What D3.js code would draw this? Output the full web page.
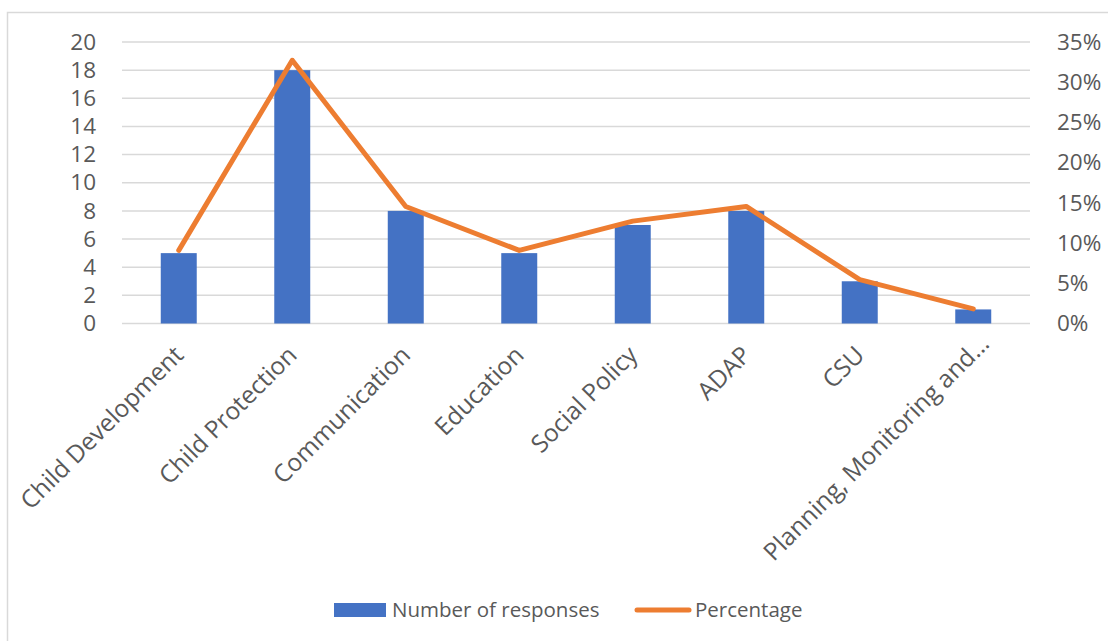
<!DOCTYPE html>
<html>
<head>
<meta charset="utf-8">
<script src="https://cdn.jsdelivr.net/npm/d3@7"></script>
<style>
	body { margin: 0; background: #fff; }
	text { font-family: "Open Sans", Lato, sans-serif; fill: #595959; }
</style>
</head>
<body>
<div id="chart"></div>
<script>
var categories = ["Child Development", "Child Protection", "Communication", "Education",
	"Social Policy", "ADAP", "CSU", "Planning, Monitoring and\u2026"];
var responses = [5, 18, 8, 5, 7, 8, 3, 1];
var percentages = [0.0909, 0.3273, 0.1455, 0.0909, 0.1273, 0.1455, 0.0545, 0.0182];
var leftTicks = [0, 2, 4, 6, 8, 10, 12, 14, 16, 18, 20];
var rightTicks = [0, 0.05, 0.10, 0.15, 0.20, 0.25, 0.30, 0.35];

var width = 1108,
	height = 641;
var plotLeft = 122, plotRight = 1030,
	plotTop = 42, plotBottom = 323.5;

var svg = d3.select("#chart")
	.append("svg")
	.attr("width", width)
	.attr("height", height);

// chart border
svg.append("rect")
	.attr("x", 7.5).attr("y", 12.5)
	.attr("width", width + 20).attr("height", height + 20)
	.attr("fill", "none")
	.attr("stroke", "#d9d9d9")
	.attr("stroke-width", 1.5);

// scales
var x = d3.scaleBand().domain(categories).range([plotLeft, plotRight]).paddingInner(0.683).paddingOuter(0.3415);
var y = d3.scaleLinear().domain([0, 20]).range([plotBottom, plotTop]);
var y2 = d3.scaleLinear().domain([0, 0.35]).range([plotBottom, plotTop]);

// gridlines
svg.append("g")
	.selectAll("line")
	.data(leftTicks)
	.enter().append("line")
	.attr("x1", plotLeft).attr("x2", plotRight)
	.attr("y1", function(d){ return y(d); })
	.attr("y2", function(d){ return y(d); })
	.attr("stroke", "#d9d9d9")
	.attr("stroke-width", 1.5);

// left axis
var ly = svg.append("g")
	.attr("transform", "translate(96,0)")
	.call(d3.axisLeft(y).tickValues(leftTicks).tickSize(0).tickPadding(0));
ly.select(".domain").remove();
ly.selectAll("text").style("font-size", "22.5px").style("font-family", "'Open Sans', sans-serif").attr("fill", "#595959");

// right axis
var ry = svg.append("g")
	.attr("transform", "translate(1057,0)")
	.call(d3.axisRight(y2).tickValues(rightTicks).tickSize(0).tickPadding(0).tickFormat(d3.format(".0%")));
ry.select(".domain").remove();
ry.selectAll("text").style("font-size", "22.5px").style("font-family", "'Open Sans', sans-serif").attr("fill", "#595959");

// bars
svg.append("g")
	.selectAll("rect")
	.data(responses)
	.enter().append("rect")
	.attr("x", function(d, i){ return x(categories[i]); })
	.attr("y", function(d){ return y(d); })
	.attr("width", x.bandwidth())
	.attr("height", function(d){ return plotBottom - y(d); })
	.attr("fill", "#4472c4");

// line
var line = d3.line()
	.x(function(d, i){ return x(categories[i]) + x.bandwidth() / 2; })
	.y(function(d){ return y2(d); });
svg.append("path")
	.datum(percentages)
	.attr("d", line)
	.attr("fill", "none")
	.attr("stroke", "#ed7d31")
	.attr("stroke-width", 5)
	.attr("stroke-linejoin", "round")
	.attr("stroke-linecap", "round");

// category labels (the truncated last one sits a bit further along)
svg.append("g")
	.selectAll("text")
	.data(categories)
	.enter().append("text")
	.attr("transform", function(d){
		return "translate(" + (x(d) + x.bandwidth() / 2 - 6) + "," + (plotBottom + 21) + ") rotate(-45)";
	})
	.attr("text-anchor", "end")
	.attr("dx", function(d, i){ return i == categories.length - 1 ? 16 : 0; })
	.attr("dy", "0.7em")
	.style("font-size", "24.5px")
	.text(function(d){ return d; });

// legend
var legend = svg.append("g");
legend.append("rect")
	.attr("x", 334).attr("y", 603)
	.attr("width", 52).attr("height", 14)
	.attr("fill", "#4472c4");
legend.append("text")
	.attr("x", 392).attr("y", 617)
	.style("font-size", "20.5px")
	.text("Number of responses");
legend.append("line")
	.attr("x1", 637).attr("x2", 689)
	.attr("y1", 610).attr("y2", 610)
	.attr("stroke", "#ed7d31")
	.attr("stroke-width", 5)
	.attr("stroke-linecap", "round");
legend.append("text")
	.attr("x", 695).attr("y", 617)
	.style("font-size", "20.5px")
	.text("Percentage");
</script>
</body>
</html>
